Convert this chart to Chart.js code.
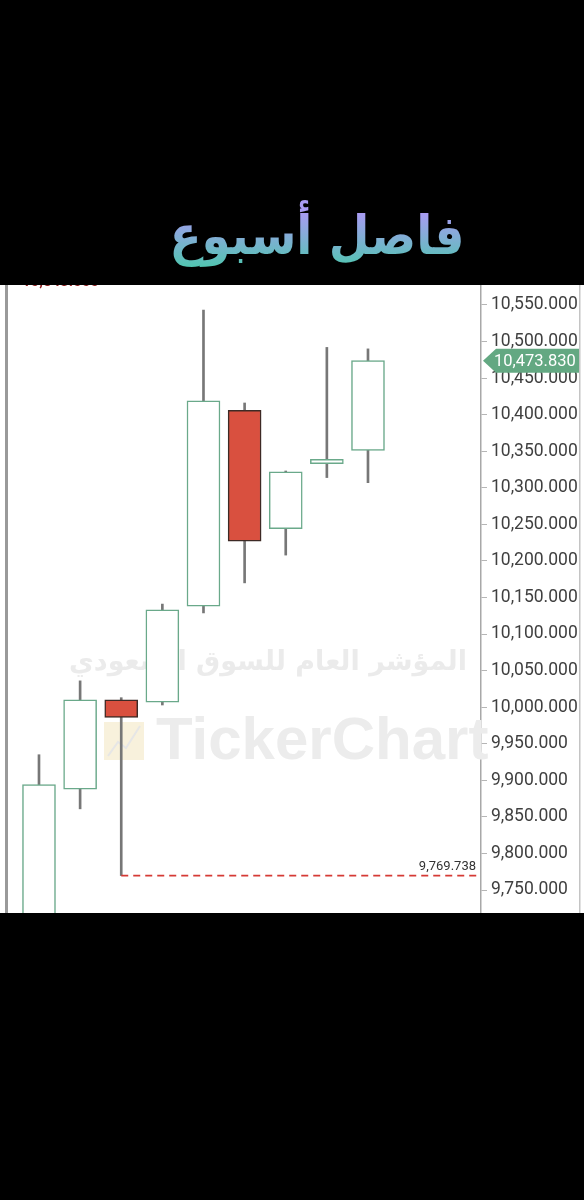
<!DOCTYPE html>
<html>
<head>
<meta charset="utf-8">
<script src="https://cdn.jsdelivr.net/npm/chart.js@4.4.1/dist/chart.umd.min.js"></script>
<style>
  html, body { margin: 0; padding: 0; background: #000; }
  body { width: 584px; height: 1200px; position: relative; overflow: hidden; }
  #title {
    position: absolute; top: 196px; left: 0; width: 634px; text-align: center;
    font-family: "DejaVu Sans", sans-serif; font-weight: bold; font-size: 47px;
    direction: rtl; line-height: 80px; transform: scaleY(1.15);
    background: linear-gradient(180deg, #a99bf3 25%, #4fc6af 85%);
    -webkit-background-clip: text; background-clip: text; color: transparent;
  }
  #wrap { position: absolute; top: 285px; left: 0; width: 584px; height: 628px; background: #fff; }
</style>
</head>
<body>
<div id="title">فاصل أسبوع</div>
<div id="wrap"><canvas id="velas" width="584" height="628"></canvas></div>
<script>
// Velas semanales
const weeks  = ['W1', 'W2', 'W3', 'W4', 'W5', 'W6', 'W7', 'W8', 'W9'];
const opens  = [9700, 9888, 10010, 10007, 10138, 10406, 10244, 10333, 10351];
const highs  = [9935, 10036, 10013, 10141, 10543, 10416, 10323, 10492, 10490];
const lows   = [9680, 9861, 9769.738, 10003, 10129, 10170, 10208, 10314, 10307];
const closes = [9894, 10010, 9986, 10133, 10419, 10227, 10322, 10339, 10473.83];
const yTicks = [9750, 9800, 9850, 9900, 9950, 10000, 10050, 10100, 10150, 10200,
                10250, 10300, 10350, 10400, 10450, 10500, 10550];
const lowMark = 2;   // vela marcada con la linea discontinua

const fmt = v => v.toLocaleString('en-US', { minimumFractionDigits: 3, maximumFractionDigits: 3 });
const up = weeks.map((w, i) => closes[i] >= opens[i]);

// marca de agua de fondo
const marcaAgua = {
  id: 'marcaAgua',
  beforeDatasetsDraw(chart) {
    const ctx = chart.ctx;
    ctx.save();
    ctx.fillStyle = '#ebebeb';
    ctx.font = 'bold 27px "DejaVu Sans"';
    ctx.textAlign = 'center';
    ctx.textBaseline = 'middle';
    ctx.direction = 'rtl';
    ctx.fillText('المؤشر العام للسوق السعودي', 268, 378);
    ctx.direction = 'ltr';
    ctx.fillStyle = '#ececec';
    ctx.font = 'bold 60px "Liberation Sans"';
    ctx.textAlign = 'left';
    ctx.fillText('TickerChart', 156, 457);
    ctx.fillStyle = '#f8f1dc';
    ctx.fillRect(104, 437, 40, 38);
    ctx.strokeStyle = '#e6e6e6';
    ctx.lineWidth = 2;
    ctx.beginPath();
    ctx.moveTo(108, 471); ctx.lineTo(118, 457); ctx.lineTo(126, 463); ctx.lineTo(140, 441);
    ctx.stroke();
    ctx.restore();
  }
};

// lineas y etiquetas encima
const extras = {
  id: 'extras',
  afterDraw(chart) {
    const ctx = chart.ctx;
    const x = chart.scales.x, y = chart.scales.y;
    const area = chart.chartArea;
    ctx.save();
    // barra gris izquierda
    ctx.fillStyle = '#9a9a9a';
    ctx.fillRect(5, 0, 3, chart.height);
    // borde derecho
    ctx.fillStyle = '#c4c4c4';
    ctx.fillRect(579, 0, 1.5, chart.height);

    // minimo: linea discontinua
    const minVal = lows[lowMark];
    const yMin = y.getPixelForValue(minVal);
    ctx.strokeStyle = '#d53a35';
    ctx.lineWidth = 1.8;
    ctx.setLineDash([7, 5]);
    ctx.beginPath();
    ctx.moveTo(x.getPixelForValue(lowMark), yMin);
    ctx.lineTo(area.right - 3, yMin);
    ctx.stroke();
    ctx.setLineDash([]);
    ctx.fillStyle = '#333';
    ctx.font = '13px Roboto';
    ctx.textAlign = 'right';
    ctx.textBaseline = 'bottom';
    ctx.fillText(fmt(minVal), area.right - 5, yMin - 2);

    // maximo: etiqueta roja recortada arriba
    ctx.fillStyle = '#8e1f1f';
    ctx.font = 'bold 15px Roboto';
    ctx.textAlign = 'left';
    ctx.textBaseline = 'bottom';
    ctx.fillText(fmt(Math.max(...highs)), 22, 5);

    // etiqueta de precio actual
    const last = closes[closes.length - 1];
    const yl = y.getPixelForValue(last);
    ctx.fillStyle = '#63a882';
    ctx.beginPath();
    ctx.moveTo(area.right + 2, yl);
    ctx.lineTo(area.right + 15, yl - 12);
    ctx.lineTo(579, yl - 12);
    ctx.lineTo(579, yl + 12);
    ctx.lineTo(area.right + 15, yl + 12);
    ctx.closePath();
    ctx.fill();
    ctx.fillStyle = '#fff';
    ctx.font = '16.5px Roboto';
    ctx.textBaseline = 'middle';
    ctx.fillText(fmt(last), area.right + 13, yl + 1);
    ctx.restore();
  }
};

const ctxVelas = document.getElementById('velas').getContext('2d');
new Chart(ctxVelas, {
  type: 'bar',
  data: {
    datasets: [
      {
        label: 'cuerpo',
        data: weeks.map((w, i) => ({ x: i, y: [opens[i], closes[i]] })),
        backgroundColor: up.map(u => u ? '#ffffff' : '#d9503f'),
        borderColor: up.map(u => u ? '#6aa98a' : '#3d2a25'),
        borderWidth: 1.5,
        borderSkipped: false,
        barThickness: 33,
        grouped: false,
        order: 1
      },
      {
        label: 'mecha',
        data: weeks.map((w, i) => ({ x: i, y: [lows[i], highs[i]] })),
        backgroundColor: '#777777',
        borderWidth: 0,
        barThickness: 2,
        grouped: false,
        order: 2
      }
    ]
  },
  options: {
    responsive: false,
    animation: false,
    layout: { padding: 0 },
    plugins: { legend: { display: false }, tooltip: { enabled: false } },
    scales: {
      x: { type: 'linear', min: -0.948, max: 10.748, offset: false, display: false },
      y: {
        position: 'right',
        min: 9718.55,
        max: 10577.35,
        afterFit: s => { s.width = 103; s.paddingTop = 0; s.paddingBottom = 0; },
        afterBuildTicks: s => { s.ticks = yTicks.map(v => ({ value: v })); },
        ticks: {
          includeBounds: false,
          callback: v => fmt(v),
          color: '#404040',
          font: { family: 'Roboto', size: 17.5 },
          padding: 4
        },
        grid: { drawOnChartArea: false, tickLength: 6, color: '#b5b5b5' },
        border: { color: '#a8a8a8', width: 1.5 }
      }
    }
  },
  plugins: [marcaAgua, extras]
});
</script>
</body>
</html>
